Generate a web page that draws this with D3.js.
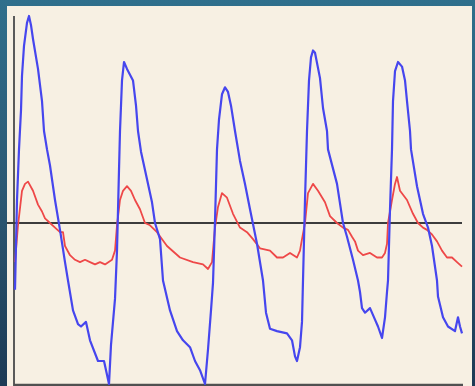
<!DOCTYPE html>
<head>
  <meta charset="utf-8">
  <title>Waveform</title>
  <script src="https://cdn.jsdelivr.net/npm/d3@7/dist/d3.min.js"></script>
  <style>
    body { margin: 0; background: #234560; }
  </style>
</head>
<body>
  <svg width="475" height="386"></svg>

  <script>

  // time in seconds, signal in arbitrary units (0 = baseline)
  var blueT = [0.01,0.03,0.05,0.07,0.08,0.10,0.13,0.15,0.17,0.19,0.24,0.28,0.30,0.33,0.36,0.41,0.46,0.51,0.54,0.59,0.64,0.67,0.72,0.76,0.84,0.90,0.93,0.95,0.97,
    1.01,1.03,1.05,1.06,1.08,1.10,1.13,1.19,1.22,1.24,1.27,1.33,1.38,1.41,1.46,1.49,1.56,1.63,1.69,1.76,1.81,1.86,1.91,1.94,1.97,1.99,
    2.01,2.03,2.05,2.08,2.11,2.14,2.17,2.21,2.26,2.31,2.36,2.43,2.49,2.52,2.56,2.63,2.73,2.78,2.81,2.83,2.86,2.88,2.89,2.91,2.93,2.95,2.97,2.99,
    3.01,3.06,3.09,3.13,3.14,3.23,3.29,3.33,3.39,3.44,3.46,3.48,3.51,3.56,3.61,3.64,3.68,3.71,3.73,3.74,3.76,3.78,3.79,3.81,3.84,3.88,3.91,3.93,3.96,3.97,
    4.03,4.09,4.14,4.18,4.23,4.24,4.29,4.34,4.41,4.44,4.46,4.48];
  var blueV = [-0.29,0.10,0.32,0.49,0.64,0.77,0.87,0.90,0.86,0.80,0.67,0.53,0.40,0.32,0.25,0.10,-0.03,-0.17,-0.25,-0.38,-0.44,-0.45,-0.43,-0.51,-0.60,-0.60,-0.66,-0.70,-0.53,
    -0.33,-0.12,0.23,0.40,0.62,0.70,0.67,0.62,0.51,0.40,0.31,0.19,0.09,0.00,-0.07,-0.25,-0.38,-0.47,-0.51,-0.54,-0.60,-0.64,-0.70,-0.55,-0.38,-0.26,
    0.01,0.32,0.45,0.56,0.59,0.57,0.51,0.40,0.27,0.17,0.06,-0.09,-0.25,-0.39,-0.46,-0.47,-0.48,-0.51,-0.58,-0.60,-0.54,-0.43,-0.25,0.10,0.40,0.62,0.72,0.75,
    0.74,0.63,0.50,0.40,0.32,0.17,0.00,-0.06,-0.16,-0.25,-0.30,-0.37,-0.39,-0.37,-0.42,-0.45,-0.50,-0.41,-0.30,-0.25,0.06,0.32,0.53,0.66,0.70,0.68,0.62,0.53,0.40,0.32,
    0.16,0.04,-0.02,-0.10,-0.25,-0.32,-0.41,-0.45,-0.47,-0.41,-0.45,-0.48];

  var redT = [0.01,0.04,0.08,0.11,0.14,0.19,0.24,0.28,0.31,0.36,0.41,0.46,0.49,0.51,0.56,0.61,0.66,0.71,0.76,0.81,0.86,0.91,0.98,
    1.01,1.03,1.06,1.09,1.13,1.17,1.21,1.26,1.31,1.36,1.43,1.53,1.66,1.79,1.89,1.94,1.98,1.99,
    2.01,2.04,2.08,2.13,2.19,2.26,2.33,2.39,2.46,2.56,2.63,2.69,2.76,2.83,2.86,2.88,2.91,2.94,2.99,
    3.04,3.11,3.16,3.23,3.29,3.34,3.38,3.41,3.44,3.49,3.56,3.63,3.68,3.71,3.73,3.74,3.78,3.81,3.83,3.86,3.93,3.99,
    4.04,4.09,4.13,4.18,4.23,4.28,4.33,4.38,4.43,4.48];
  var redV = [-0.17,-0.01,0.14,0.17,0.18,0.14,0.08,0.05,0.02,0.00,-0.02,-0.04,-0.04,-0.10,-0.14,-0.16,-0.17,-0.16,-0.17,-0.18,-0.17,-0.18,-0.16,
    -0.12,-0.01,0.10,0.14,0.16,0.14,0.10,0.06,0.00,-0.01,-0.04,-0.10,-0.15,-0.17,-0.18,-0.20,-0.17,-0.12,
    -0.02,0.07,0.13,0.11,0.04,-0.02,-0.04,-0.07,-0.11,-0.12,-0.15,-0.15,-0.13,-0.15,-0.12,-0.07,0.00,0.13,0.17,
    0.14,0.09,0.03,0.00,-0.02,-0.03,-0.06,-0.08,-0.12,-0.14,-0.13,-0.15,-0.15,-0.13,-0.09,0.00,0.10,0.17,0.20,0.14,0.10,0.04,
    0.00,-0.02,-0.03,-0.05,-0.08,-0.12,-0.15,-0.15,-0.17,-0.19];

  var svg = d3.select("svg"),
      width = +svg.attr("width"),
      height = +svg.attr("height");

  // backdrop
  var defs = svg.append("defs");
  var grad = defs.append("linearGradient")
      .attr("id", "bg").attr("x1", 0).attr("y1", 0).attr("x2", 0).attr("y2", 1);
  grad.append("stop").attr("offset", "0%").attr("stop-color", "#2f6f8c");
  grad.append("stop").attr("offset", "50%").attr("stop-color", "#2b5873");
  grad.append("stop").attr("offset", "100%").attr("stop-color", "#1d3a55");

  svg.append("rect")
      .attr("width", width).attr("height", height)
      .attr("fill", "url(#bg)");

  svg.append("rect")
      .attr("x", 7).attr("y", 6)
      .attr("width", 465).attr("height", height - 6)
      .attr("fill", "#f7f0e3");

  var x = d3.scaleLinear()
      .domain([0, 4.49])
      .range([14, 463]);

  var y = d3.scaleLinear()
      .domain([-0.7, 0.9])
      .range([384, 16]);

  // axes
  svg.append("line")
      .attr("x1", x(0)).attr("x2", x(0))
      .attr("y1", 16).attr("y2", height)
      .attr("stroke", "#5a5a5a").attr("stroke-width", 2);

  svg.append("line")
      .attr("x1", x(0)).attr("x2", x(4.49))
      .attr("y1", 385).attr("y2", 385)
      .attr("stroke", "#505050").attr("stroke-width", 2.5);

  // baseline
  svg.append("line")
      .attr("x1", 7).attr("x2", x(4.49) - 1)
      .attr("y1", y(0)).attr("y2", y(0))
      .attr("stroke", "#3c3c3c").attr("stroke-width", 2);

  var line = d3.line()
      .x(function(d) { return x(d[0]); })
      .y(function(d) { return y(d[1]); });

  var red = redT.map(function(t, i) { return [t, redV[i]]; });
  var blue = blueT.map(function(t, i) { return [t, blueV[i]]; });

  svg.append("path")
      .datum(red)
      .attr("d", line)
      .attr("fill", "none")
      .attr("stroke", "#ee4848")
      .attr("stroke-width", 1.8)
      .attr("stroke-linejoin", "round");

  svg.append("path")
      .datum(blue)
      .attr("d", line)
      .attr("fill", "none")
      .attr("stroke", "#4646ee")
      .attr("stroke-width", 2.2)
      .attr("stroke-linejoin", "round");

  </script>
</body>
